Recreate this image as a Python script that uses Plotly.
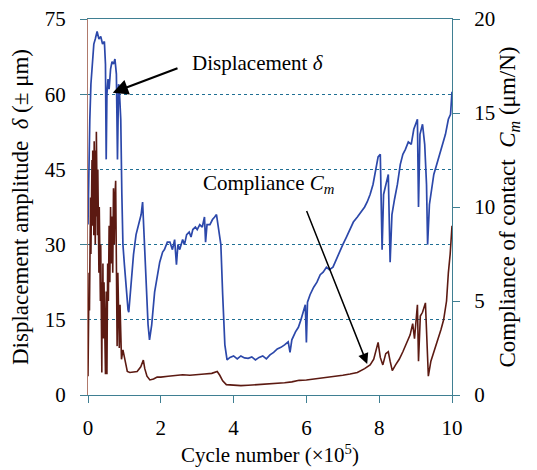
import plotly.graph_objects as go

# Displacement amplitude (left axis, ± µm)
disp_x = [0.00, 0.02, 0.05, 0.08, 0.12, 0.16, 0.20, 0.25, 0.30, 0.35, 0.40, 0.45, 0.48, 0.50,
          0.52, 0.55, 0.58, 0.62, 0.66, 0.70, 0.74, 0.78, 0.81, 0.84, 0.86, 0.88, 0.90, 0.93,
          0.96, 1.00, 1.05, 1.10, 1.12, 1.18, 1.25, 1.32, 1.40, 1.46, 1.50, 1.55, 1.60, 1.65,
          1.69, 1.75, 1.83, 1.90, 1.97, 2.05, 2.10, 2.18, 2.25, 2.32, 2.38, 2.43, 2.47, 2.52,
          2.60, 2.65, 2.71, 2.78, 2.83, 2.88, 2.95, 3.00, 3.07, 3.14, 3.20, 3.23, 3.27, 3.35,
          3.42, 3.48, 3.53, 3.57, 3.60, 3.65, 3.70, 3.76, 3.82, 3.90, 4.00, 4.10, 4.20, 4.30,
          4.40, 4.50, 4.60, 4.70, 4.80, 4.90, 5.00, 5.10, 5.20, 5.30, 5.40, 5.50, 5.55, 5.60,
          5.70, 5.78, 5.85, 5.92, 5.97, 6.00, 6.03, 6.10, 6.20, 6.29, 6.38, 6.46, 6.55, 6.63,
          6.73, 6.82, 6.90, 7.00, 7.10, 7.20, 7.29, 7.40, 7.50, 7.60, 7.67, 7.75, 7.83, 7.90,
          7.97, 8.03, 8.08, 8.12, 8.18, 8.25, 8.30, 8.35, 8.42, 8.50, 8.58, 8.65, 8.72, 8.80,
          8.88, 8.95, 9.00, 9.05, 9.08, 9.12, 9.19, 9.25, 9.30, 9.33, 9.38, 9.45, 9.50, 9.58,
          9.66, 9.74, 9.82, 9.90, 9.96, 10.00]
disp_y = [34, 45, 55, 62, 66, 70, 71, 72.5, 71, 71.5, 70, 70.5, 66, 47,
          60, 63, 61, 65, 66.5, 66, 67, 64, 47, 62, 61, 58, 55, 40,
          30, 26, 21, 17, 16.5, 22, 28, 32, 34, 36, 38.5, 30, 20, 14,
          11, 14, 20.5, 24, 26.5, 28.5, 29, 30.5, 30.5, 29, 31, 26, 30, 29,
          31, 30, 32, 32.5, 31.5, 33, 33.5, 33, 34, 33.5, 35.5, 30.5, 34, 34,
          35, 35.5, 36, 34, 32.5, 30, 20, 10, 7, 7.5, 7.8, 7.2, 7.8, 7.4,
          7.3, 7.6, 7.0, 7.5, 7.8, 7.2, 8.0, 8.5, 9.2, 9.5, 10.0, 10.6, 8.5, 11,
          12.6, 13.5, 15, 17, 18, 10.5, 18.5, 20, 21.5, 22.5, 24, 24.5, 25.5, 25,
          25.5, 27, 28.5, 30, 31.5, 33, 34.5, 35.5, 36.5, 37.5, 38.5, 40, 42, 45,
          47.5, 48, 29, 40, 42, 44, 26.5, 36, 39, 42, 46, 48, 49, 50.5,
          50, 53, 54, 55, 37.5, 52, 54, 50, 42, 30, 38, 42, 44, 46,
          48, 50, 52, 55, 56, 60.5]

# Compliance of contact (right axis, µm/N)
comp_x = [0.00, 0.01, 0.02, 0.03, 0.04, 0.05, 0.06, 0.07, 0.08, 0.09, 0.10, 0.11, 0.12, 0.13,
          0.14, 0.15, 0.16, 0.17, 0.18, 0.19, 0.20, 0.21, 0.22, 0.23, 0.24, 0.25, 0.26, 0.27,
          0.28, 0.29, 0.30, 0.31, 0.32, 0.33, 0.34, 0.35, 0.36, 0.37, 0.38, 0.39, 0.40, 0.41,
          0.42, 0.44, 0.46, 0.48, 0.50, 0.52, 0.54, 0.56, 0.58, 0.60, 0.62, 0.64, 0.66, 0.68,
          0.70, 0.72, 0.74, 0.76, 0.78, 0.80, 0.82, 0.84, 0.86, 0.88, 0.90, 0.92, 0.96, 1.00,
          1.03, 1.08, 1.15, 1.25, 1.35, 1.45, 1.52, 1.56, 1.62, 1.70, 1.80, 1.90, 2.00, 2.20,
          2.40, 2.60, 2.80, 3.00, 3.20, 3.40, 3.55, 3.62, 3.70, 3.80, 4.00, 4.20, 4.40, 4.60,
          4.80, 5.00, 5.20, 5.40, 5.60, 5.80, 6.00, 6.20, 6.40, 6.60, 6.80, 7.00, 7.20, 7.40,
          7.60, 7.75, 7.85, 7.97, 8.03, 8.10, 8.18, 8.25, 8.30, 8.36, 8.45, 8.55, 8.65, 8.75,
          8.85, 8.92, 8.97, 9.05, 9.08, 9.13, 9.19, 9.27, 9.31, 9.35, 9.42, 9.50, 9.60, 9.70,
          9.77, 9.85, 9.90, 9.95, 10.00]
comp_y = [1.0, 4.0, 2.0, 6.5, 4.5, 9.0, 6.0, 10.5, 7.5, 11.5, 8.0, 12.5, 9.0, 13.0,
          9.5, 12.0, 8.5, 13.5, 9.0, 12.5, 8.0, 13.0, 9.5, 14.0, 10.0, 13.0, 8.5, 12.0,
          7.0, 11.0, 6.5, 10.0, 6.0, 9.5, 5.0, 8.0, 4.5, 7.5, 1.2, 6.0, 4.0, 7.0,
          3.0, 6.0, 2.5, 1.1, 5.5, 1.1, 7.0, 5.0, 9.0, 6.0, 10.0, 7.0, 9.5, 6.5,
          11.0, 8.0, 10.5, 11.4, 7.0, 2.6, 6.5, 4.5, 2.5, 4.8, 3.0, 1.9, 2.4, 2.0,
          1.6, 1.25, 1.2, 1.22, 1.25, 1.5, 1.86, 1.4, 1.0, 0.8, 0.85, 0.96, 0.95, 1.0,
          1.05, 1.08, 1.05, 1.1, 1.12, 1.15, 1.25, 1.05, 0.75, 0.55, 0.52, 0.5, 0.52, 0.55,
          0.56, 0.58, 0.6, 0.65, 0.7, 0.78, 0.8, 0.85, 0.88, 0.95, 1.0, 1.05, 1.12, 1.2,
          1.4, 1.6, 1.9, 2.8, 2.0, 1.6, 2.2, 2.3, 1.8, 1.3, 1.6, 1.9, 2.3, 2.8,
          3.2, 3.8, 3.0, 4.8, 1.8, 4.2, 4.4, 4.9, 3.0, 1.0, 1.8, 2.3, 2.8, 3.5,
          4.0, 5.0, 6.5, 7.5, 9.0]

x_ticks = [0, 2, 4, 6, 8, 10]
left_ticks = [0, 15, 30, 45, 60, 75]
right_ticks = [0, 5, 10, 15, 20]

FONT = "Liberation Serif"
TEAL = "#3f7f92"

fig = go.Figure()
fig.add_trace(go.Scatter(x=comp_x, y=comp_y, yaxis="y2", mode="lines",
                         line=dict(color="#5c1a12", width=1.6), showlegend=False))
fig.add_trace(go.Scatter(x=disp_x, y=disp_y, mode="lines",
                         line=dict(color="#2c48aa", width=1.7), showlegend=False))

# page body has an 8px margin, so the figure is sized/positioned to compensate
fig.update_layout(
    width=529, height=462,
    margin=dict(l=80, r=85, t=11, b=75),
    paper_bgcolor="white", plot_bgcolor="white",
    font=dict(family=FONT, size=21, color="black"),
    xaxis=dict(range=[0, 10], tickvals=x_ticks, showgrid=False, zeroline=False,
               showline=True, linecolor=TEAL, linewidth=1.2, mirror=True, automargin=False,
               ticks="outside", ticklen=7, tickcolor=TEAL, ticklabelstandoff=7,
               ticklabeloverflow="allow",
               title=dict(text="Cycle number (×10<sup>5</sup>)", font=dict(size=21), standoff=8)),
    yaxis=dict(range=[0, 75], tickvals=left_ticks, showgrid=True, gridcolor="#1f6f93",
               griddash="dot", gridwidth=1.2, zeroline=False, automargin=False,
               showline=True, linecolor="#b07a6c", linewidth=1.2,
               ticks="outside", ticklen=7, tickcolor=TEAL, ticklabelstandoff=10,
               ticklabeloverflow="allow",
               title=dict(text="Displacement amplitude  <i>δ</i> (± μm)", font=dict(size=23), standoff=13)),
    yaxis2=dict(range=[0, 20], tickvals=right_ticks, overlaying="y", side="right",
                showgrid=False, zeroline=False, showline=True, linecolor=TEAL, linewidth=1.2,
                automargin=False,
                ticks="outside", ticklen=7, tickcolor=TEAL, ticklabelstandoff=10,
                ticklabeloverflow="allow",
                title=dict(text="Compliance of contact  <i>C<sub>m</sub></i> (μm/N)",
                           font=dict(size=23), standoff=4)),
)

# Text labels
fig.add_annotation(x=4.67, y=66.3, xref="x", yref="y", text="Displacement <i>δ</i>",
                   showarrow=False, font=dict(size=21, family=FONT))
fig.add_annotation(x=4.95, y=42.0, xref="x", yref="y", text="Compliance <i>C<sub>m</sub></i>",
                   showarrow=False, font=dict(size=21, family=FONT))
# Arrows
fig.add_annotation(x=0.68, y=60.3, ax=2.5, ay=65.3, xref="x", yref="y", axref="x", ayref="y",
                   text="", showarrow=True, arrowhead=2, arrowsize=1.4, arrowwidth=2.2,
                   arrowcolor="black")
fig.add_annotation(x=7.67, y=6.2, ax=5.99, ay=37, xref="x", yref="y", axref="x", ayref="y",
                   text="", showarrow=True, arrowhead=2, arrowsize=1.4, arrowwidth=1.5,
                   arrowcolor="black")

fig.write_html("out.html")
